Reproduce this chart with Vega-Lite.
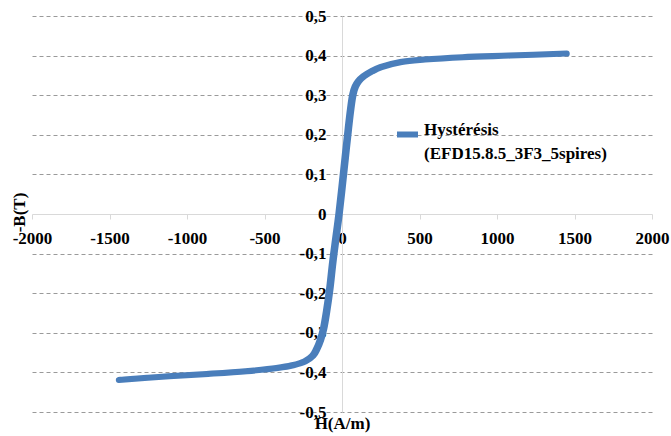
{
  "$schema": "https://vega.github.io/schema/vega-lite/v6.json",
  "width": 620,
  "height": 396,
  "autosize": {"type": "none"},
  "padding": {"left": 32, "top": 16, "right": 19, "bottom": 24},
  "background": "white",
  "config": {
    "view": {"stroke": null},
    "style": {"guide-label": {"lineHeight": 24}}
  },
  "data": {
    "values": [
      {"order": 1, "H": 1450, "B": 0.405, "series": "Hystérésis"},
      {"order": 2, "H": 1076, "B": 0.400, "series": "Hystérésis"},
      {"order": 3, "H": 776, "B": 0.396, "series": "Hystérésis"},
      {"order": 4, "H": 526, "B": 0.390, "series": "Hystérésis"},
      {"order": 5, "H": 376, "B": 0.384, "series": "Hystérésis"},
      {"order": 6, "H": 246, "B": 0.371, "series": "Hystérésis"},
      {"order": 7, "H": 186, "B": 0.360, "series": "Hystérésis"},
      {"order": 8, "H": 136, "B": 0.348, "series": "Hystérésis"},
      {"order": 9, "H": 101, "B": 0.335, "series": "Hystérésis"},
      {"order": 10, "H": 81, "B": 0.322, "series": "Hystérésis"},
      {"order": 11, "H": 66, "B": 0.303, "series": "Hystérésis"},
      {"order": 12, "H": 51, "B": 0.265, "series": "Hystérésis"},
      {"order": 13, "H": 36, "B": 0.215, "series": "Hystérésis"},
      {"order": 14, "H": 16, "B": 0.143, "series": "Hystérésis"},
      {"order": 15, "H": -4, "B": 0.07, "series": "Hystérésis"},
      {"order": 16, "H": -24, "B": 0.0, "series": "Hystérésis"},
      {"order": 17, "H": -44, "B": -0.06, "series": "Hystérésis"},
      {"order": 18, "H": -64, "B": -0.12, "series": "Hystérésis"},
      {"order": 19, "H": -84, "B": -0.19, "series": "Hystérésis"},
      {"order": 20, "H": -104, "B": -0.245, "series": "Hystérésis"},
      {"order": 21, "H": -124, "B": -0.29, "series": "Hystérésis"},
      {"order": 22, "H": -144, "B": -0.318, "series": "Hystérésis"},
      {"order": 23, "H": -169, "B": -0.342, "series": "Hystérésis"},
      {"order": 24, "H": -194, "B": -0.358, "series": "Hystérésis"},
      {"order": 25, "H": -244, "B": -0.372, "series": "Hystérésis"},
      {"order": 26, "H": -324, "B": -0.382, "series": "Hystérésis"},
      {"order": 27, "H": -424, "B": -0.389, "series": "Hystérésis"},
      {"order": 28, "H": -624, "B": -0.397, "series": "Hystérésis"},
      {"order": 29, "H": -874, "B": -0.404, "series": "Hystérésis"},
      {"order": 30, "H": -1124, "B": -0.41, "series": "Hystérésis"},
      {"order": 31, "H": -1440, "B": -0.419, "series": "Hystérésis"},
      {"order": 32, "H": -1114, "B": -0.41, "series": "Hystérésis"},
      {"order": 33, "H": -864, "B": -0.404, "series": "Hystérésis"},
      {"order": 34, "H": -614, "B": -0.397, "series": "Hystérésis"},
      {"order": 35, "H": -414, "B": -0.389, "series": "Hystérésis"},
      {"order": 36, "H": -314, "B": -0.382, "series": "Hystérésis"},
      {"order": 37, "H": -234, "B": -0.372, "series": "Hystérésis"},
      {"order": 38, "H": -184, "B": -0.358, "series": "Hystérésis"},
      {"order": 39, "H": -159, "B": -0.342, "series": "Hystérésis"},
      {"order": 40, "H": -134, "B": -0.318, "series": "Hystérésis"},
      {"order": 41, "H": -114, "B": -0.29, "series": "Hystérésis"},
      {"order": 42, "H": -94, "B": -0.245, "series": "Hystérésis"},
      {"order": 43, "H": -74, "B": -0.19, "series": "Hystérésis"},
      {"order": 44, "H": -54, "B": -0.12, "series": "Hystérésis"},
      {"order": 45, "H": -34, "B": -0.06, "series": "Hystérésis"},
      {"order": 46, "H": -14, "B": 0.0, "series": "Hystérésis"},
      {"order": 47, "H": 6, "B": 0.07, "series": "Hystérésis"},
      {"order": 48, "H": 26, "B": 0.143, "series": "Hystérésis"},
      {"order": 49, "H": 46, "B": 0.215, "series": "Hystérésis"},
      {"order": 50, "H": 61, "B": 0.265, "series": "Hystérésis"},
      {"order": 51, "H": 76, "B": 0.303, "series": "Hystérésis"},
      {"order": 52, "H": 91, "B": 0.322, "series": "Hystérésis"},
      {"order": 53, "H": 111, "B": 0.335, "series": "Hystérésis"},
      {"order": 54, "H": 146, "B": 0.348, "series": "Hystérésis"},
      {"order": 55, "H": 196, "B": 0.360, "series": "Hystérésis"},
      {"order": 56, "H": 256, "B": 0.371, "series": "Hystérésis"},
      {"order": 57, "H": 386, "B": 0.384, "series": "Hystérésis"},
      {"order": 58, "H": 536, "B": 0.390, "series": "Hystérésis"},
      {"order": 59, "H": 786, "B": 0.396, "series": "Hystérésis"},
      {"order": 60, "H": 1086, "B": 0.400, "series": "Hystérésis"},
      {"order": 61, "H": 1450, "B": 0.405, "series": "Hystérésis"}
    ]
  },
  "mark": {
    "type": "line",
    "interpolate": "catmull-rom",
    "strokeWidth": 6,
    "strokeCap": "round",
    "strokeJoin": "round"
  },
  "encoding": {
    "x": {
      "field": "H",
      "type": "quantitative",
      "scale": {"domain": [-2000, 2000], "nice": false, "zero": false},
      "axis": {
        "title": "H(A/m)",
        "values": [-2000, -1500, -1000, -500, 0, 500, 1000, 1500, 2000],
        "offset": -198,
        "grid": false,
        "domainColor": "#d9d9d9",
        "domainWidth": 1,
        "tickColor": "#d9d9d9",
        "tickSize": 5,
        "labelPadding": 11,
        "labelFont": "Liberation Serif",
        "labelFontWeight": "bold",
        "labelFontSize": 17,
        "labelColor": "black",
        "labelExpr": "toString(datum.value)",
        "labelOverlap": false,
        "labelFlush": false,
        "labelBound": false,
        "titleFont": "Liberation Serif",
        "titleFontWeight": "bold",
        "titleFontSize": 17,
        "titleColor": "black",
        "titleX": 310,
        "titleY": 209,
        "titleBaseline": "middle",
        "titleAlign": "center",
        "titleAngle": 0
      }
    },
    "y": {
      "field": "B",
      "type": "quantitative",
      "scale": {"domain": [-0.5, 0.5], "nice": false, "zero": false},
      "axis": {
        "title": "-B(T)",
        "values": [-0.5, -0.4, -0.3, -0.2, -0.1, 0, 0.1, 0.2, 0.3, 0.4, 0.5],
        "offset": -310,
        "ticks": false,
        "labelPadding": 16,
        "grid": true,
        "gridDash": [4, 3],
        "gridColor": "#9a9a9a",
        "gridOpacity": {"condition": {"test": "datum.value === 0", "value": 0}, "value": 1},
        "domainColor": "#d9d9d9",
        "domainWidth": 1,
        "labelFont": "Liberation Serif",
        "labelFontWeight": "bold",
        "labelFontSize": 17,
        "labelColor": "black",
        "labelExpr": "datum.value === 0 ? '0' : replace(replace(format(datum.value, '.1f'), '.', ','), '\u2212', '-')",
        "labelOverlap": false,
        "labelFlush": false,
        "labelBound": false,
        "titleFont": "Liberation Serif",
        "titleFontWeight": "bold",
        "titleFontSize": 17,
        "titleColor": "black",
        "titleX": -323,
        "titleY": 196,
        "titleAngle": -90,
        "titleBaseline": "middle",
        "titleAlign": "center"
      }
    },
    "order": {"field": "order", "type": "quantitative"},
    "color": {
      "field": "series",
      "type": "nominal",
      "scale": {"range": ["#4A7EBB"]},
      "legend": {
        "orient": "none",
        "legendX": 362,
        "legendY": 105,
        "title": null,
        "padding": 0,
        "symbolType": "stroke",
        "symbolSize": 441,
        "symbolStrokeWidth": 6,
        "labelFont": "Liberation Serif",
        "labelFontWeight": "bold",
        "labelFontSize": 17,
        "labelColor": "black",
        "labelLimit": 400,
        "labelOffset": 3,
        "labelBaseline": "alphabetic",
        "labelExpr": "['Hystérésis', '(EFD15.8.5_3F3_5spires)']"
      }
    }
  }
}
